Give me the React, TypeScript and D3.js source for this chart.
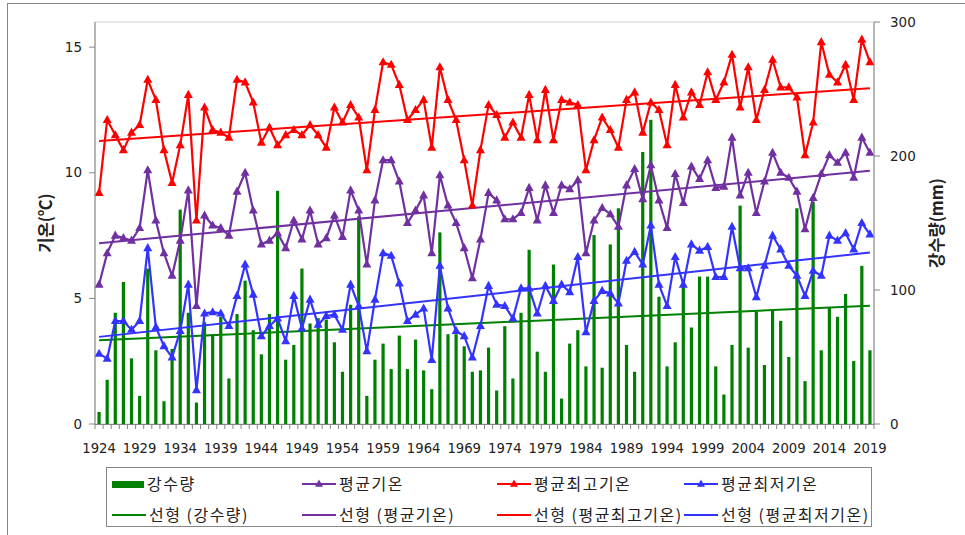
import React from "react";
import * as d3 from "d3";

const years: number[] = d3.range(1924, 2020);
const precip: number[] = [
  9, 33, 83, 106, 49, 21, 116, 55, 17, 56,
  160, 83, 16, 76, 67, 80, 34, 82, 107, 70,
  52, 82, 174, 48, 59, 116, 75, 79, 78, 61,
  39, 89, 155, 21, 48, 60, 41, 66, 41, 63,
  40, 26, 143, 67, 67, 58, 39, 40, 57, 25,
  73, 34, 83, 130, 54, 39, 119, 19, 60, 70,
  43, 141, 42, 134, 161, 59, 39, 203, 227, 95,
  43, 61, 105, 72, 110, 110, 43, 22, 59, 163,
  57, 84, 44, 85, 77, 50, 161, 32, 166, 55,
  87, 80, 97, 47, 118, 55,
];
const tMax: number[] = [
  9.2, 12.1, 11.5, 10.9, 11.6, 11.9, 13.7, 12.9, 10.9, 9.6,
  11.1, 13.1, 8.1, 12.6, 11.7, 11.6, 11.4, 13.7, 13.6, 12.8,
  11.2, 11.8, 11.1, 11.5, 11.7, 11.5, 11.9, 11.5, 11.0, 12.6,
  12.0, 12.7, 12.2, 10.1, 12.5, 14.4, 14.3, 13.5, 12.1, 12.5,
  12.9, 11.0, 14.2, 12.9, 12.1, 10.5, 8.7, 10.9, 12.7, 12.3,
  11.4, 12.0, 11.4, 13.1, 11.3, 13.3, 11.3, 12.9, 12.8, 12.7,
  10.1, 11.3, 12.2, 11.7, 11.0, 12.9, 13.2, 11.6, 12.8, 12.5,
  11.1, 13.5, 12.2, 13.2, 12.7, 14.0, 12.9, 13.6, 14.7, 12.6,
  14.2, 12.1, 13.3, 14.5, 13.4, 13.4, 13.0, 10.7, 12.0, 15.2,
  13.9, 13.6, 14.3, 12.9, 15.3, 14.4,
];
const tAvg: number[] = [
  5.55, 6.8, 7.5, 7.4, 7.3, 7.8, 10.1, 8.1, 6.8, 5.9,
  7.3, 9.3, 4.7, 8.3, 7.9, 7.8, 7.5, 9.25, 10.0, 8.5,
  7.15, 7.3, 7.6, 7.0, 8.1, 7.35, 8.5, 7.15, 7.4, 8.3,
  7.45, 9.3, 8.5, 6.35, 8.9, 10.5, 10.5, 9.65, 8.0, 8.5,
  9.1, 6.8, 9.9, 8.7, 8.0, 7.0, 5.8, 7.35, 9.2, 8.9,
  8.15, 8.15, 8.4, 9.4, 8.1, 9.5, 8.4, 9.5, 9.35, 9.7,
  6.8, 8.1, 8.6, 8.35, 7.85, 9.5, 10.15, 8.95, 10.3, 8.9,
  7.8, 9.95, 8.8, 10.25, 9.75, 10.5, 9.4, 9.45, 11.4, 9.1,
  10.0, 8.4, 9.65, 10.8, 10.0, 9.8, 9.25, 7.75, 9.0, 9.95,
  10.7, 10.4, 10.8, 9.8, 11.4, 10.8,
];
const tMin: number[] = [
  2.8, 2.6, 4.1, 4.1, 3.75, 4.1, 7.0, 3.85, 3.1, 2.65,
  3.7, 5.55, 1.35, 4.4, 4.45, 4.4, 3.9, 5.1, 6.35, 5.15,
  3.5, 3.9, 4.2, 3.3, 5.1, 3.8, 4.95, 3.95, 4.3, 4.35,
  3.75, 5.55, 4.7, 2.9, 4.95, 6.8, 6.7, 5.6, 4.1, 4.35,
  4.6, 2.55, 6.3, 4.6, 3.7, 3.5, 2.65, 3.9, 5.5, 4.75,
  4.7, 4.2, 5.4, 5.4, 4.4, 5.5, 4.9, 5.55, 5.25, 6.65,
  3.65, 4.9, 5.3, 5.2, 4.8, 6.5, 6.85, 6.35, 7.9, 5.55,
  4.7, 6.65, 5.55, 7.15, 6.9, 7.05, 5.85, 5.85, 7.85, 6.2,
  6.2, 5.05, 6.3, 7.5, 6.95, 6.3, 5.9, 5.1, 6.1, 5.9,
  7.5, 7.3, 7.6, 6.95, 8.0, 7.55,
];
const leftTicks: number[] = [0, 5, 10, 15];
const rightTicks: number[] = [0, 100, 200, 300];
const labelYears: number[] = d3.range(1924, 2020, 5);

const GREEN = "#008000";
const PURPLE = "#7030A0";
const RED = "#FF0000";
const BLUE = "#3333FF";
const AXIS = "#868686";
const NUMFONT = "'DejaVu Sans', Verdana, sans-serif";
const KRFONT = "'Noto Sans CJK KR', 'Noto Sans', sans-serif";

const L = 95, R = 874, T = 22, B = 424;

function regression(vals: number[]) {
  const xs = vals.map((_, i) => i);
  const mx = d3.mean(xs)!;
  const my = d3.mean(vals)!;
  const num = d3.sum(xs, (x, i) => (x - mx) * (vals[i] - my));
  const den = d3.sum(xs, (x) => (x - mx) * (x - mx));
  const slope = num / den;
  return (i: number) => my + slope * (i - mx);
}

function tri(cx: number, cy: number, s: number) {
  const h = s * 0.9;
  return `M${cx},${cy - h * 0.62}L${cx + s / 2},${cy + h * 0.38}L${cx - s / 2},${cy + h * 0.38}Z`;
}

export default function App() {
  const x = d3.scaleBand<number>().domain(years).range([L, R]).padding(0);
  const yT = d3.scaleLinear().domain([0, 16]).range([B, T]);
  const yP = d3.scaleLinear().domain([0, 300]).range([B, T]);
  const cx = (yr: number) => (x(yr) as number) + x.bandwidth() / 2;

  const series = [
    { vals: tMax, color: RED },
    { vals: tAvg, color: PURPLE },
    { vals: tMin, color: BLUE },
  ];
  const lineT = (vals: number[]) =>
    d3.line<number>().x((_, i) => cx(years[i])).y((v) => yT(v))(vals) || "";

  const trendP = regression(precip);
  const first = years[0], last = years[years.length - 1];

  const legendRow1 = [
    { label: "강수량", color: GREEN, kind: "bar", x: 112 },
    { label: "평균기온", color: PURPLE, kind: "marker", x: 302 },
    { label: "평균최고기온", color: RED, kind: "marker", x: 497 },
    { label: "평균최저기온", color: BLUE, kind: "marker", x: 684 },
  ];
  const legendRow2 = [
    { label: "선형 (강수량)", color: GREEN, x: 112 },
    { label: "선형 (평균기온)", color: PURPLE, x: 302 },
    { label: "선형 (평균최고기온)", color: RED, x: 497 },
    { label: "선형 (평균최저기온)", color: BLUE, x: 684 },
  ];

  return (
    <svg width={965} height={535} style={{ position: "absolute", left: 0, top: 0 }}>
      <rect x={0} y={0} width={965} height={535} fill="#fff" />
      <rect x={7.5} y={3.5} width={970} height={540} fill="none" stroke={AXIS} strokeWidth={1} />
      {/* plot area border */}
      <rect x={L} y={T} width={R - L} height={B - T} fill="none" stroke="#d0d0d0" strokeWidth={1} />

      {/* bars */}
      {years.map((yr, i) => (
        <rect key={"b" + yr} x={cx(yr) - 1.6} y={yP(precip[i])} width={3.2} height={B - yP(precip[i])} fill={GREEN} />
      ))}

      {/* trend lines */}
      <line x1={cx(first)} x2={cx(last)} y1={yP(trendP(0))} y2={yP(trendP(years.length - 1))} stroke={GREEN} strokeWidth={2} />
      {series.map((s) => {
        const f = regression(s.vals);
        return (
          <line key={"t" + s.color} x1={cx(first)} x2={cx(last)} y1={yT(f(0))} y2={yT(f(years.length - 1))} stroke={s.color} strokeWidth={2} />
        );
      })}

      {/* series lines with markers */}
      {series.map((s) => (
        <g key={"s" + s.color}>
          <path d={lineT(s.vals)} fill="none" stroke={s.color} strokeWidth={2.2} strokeLinejoin="round" />
          {s.vals.map((v, i) => (
            <path key={i} d={tri(cx(years[i]), yT(v), 9)} fill={s.color} />
          ))}
        </g>
      ))}

      {/* axes */}
      <line x1={L} x2={L} y1={T} y2={B} stroke={AXIS} />
      <line x1={R} x2={R} y1={T} y2={B} stroke={AXIS} />
      <line x1={L} x2={R} y1={B + 0.5} y2={B + 0.5} stroke={AXIS} />
      {leftTicks.map((t) => (
        <g key={"lt" + t}>
          <line x1={L - 6} x2={L} y1={yT(t)} y2={yT(t)} stroke={AXIS} />
          <text x={L - 13} y={yT(t)} dy="0.35em" textAnchor="end" fontFamily={NUMFONT} fontSize={13.5} fill="#222">{t}</text>
        </g>
      ))}
      {rightTicks.map((t) => (
        <g key={"rt" + t}>
          <line x1={R} x2={R + 6} y1={yP(t)} y2={yP(t)} stroke={AXIS} />
          <text x={R + 16} y={yP(t)} dy="0.35em" textAnchor="start" fontFamily={NUMFONT} fontSize={13.5} fill="#222">{t}</text>
        </g>
      ))}
      {years.concat([last + 1]).map((yr, i) => {
        const xx = L + i * x.bandwidth();
        return <line key={"xt" + yr} x1={xx} x2={xx} y1={B} y2={B + 5} stroke={AXIS} />;
      })}
      {labelYears.map((yr) => (
        <text key={"xl" + yr} x={cx(yr)} y={448} dy="0.35em" textAnchor="middle" fontFamily={NUMFONT} fontSize={13.2} fill="#222">{yr}</text>
      ))}

      {/* axis titles */}
      <text transform={`translate(52,${223}) rotate(-90)`} textAnchor="middle" fontFamily={KRFONT} fontSize={16.5} fontWeight="bold" fill="#222">기온(℃)</text>
      <text transform={`translate(943,${223}) rotate(-90)`} textAnchor="middle" fontFamily={KRFONT} fontSize={16.5} fontWeight="bold" fill="#222">강수량(mm)</text>

      {/* legend */}
      <rect x={106.5} y={467.5} width={765} height={59} fill="none" stroke={AXIS} />
      {legendRow1.map((l) => (
        <g key={"l1" + l.label}>
          {l.kind === "bar" ? (
            <rect x={l.x} y={481} width={32} height={7} fill={l.color} />
          ) : (
            <g>
              <line x1={l.x} x2={l.x + 34} y1={484} y2={484} stroke={l.color} strokeWidth={2.2} />
              <path d={tri(l.x + 17, 484, 8)} fill={l.color} />
            </g>
          )}
          <text x={l.x + (l.kind === "bar" ? 35 : 37)} y={484} dy="0.35em" fontFamily={KRFONT} fontSize={16} letterSpacing={1.5} fill="#222">{l.label}</text>
        </g>
      ))}
      {legendRow2.map((l) => (
        <g key={"l2" + l.label}>
          <line x1={l.x} x2={l.x + 34} y1={515} y2={515} stroke={l.color} strokeWidth={2} />
          <text x={l.x + 37} y={515} dy="0.35em" fontFamily={KRFONT} fontSize={16} letterSpacing={1.5} fill="#222">{l.label}</text>
        </g>
      ))}
    </svg>
  );
}
